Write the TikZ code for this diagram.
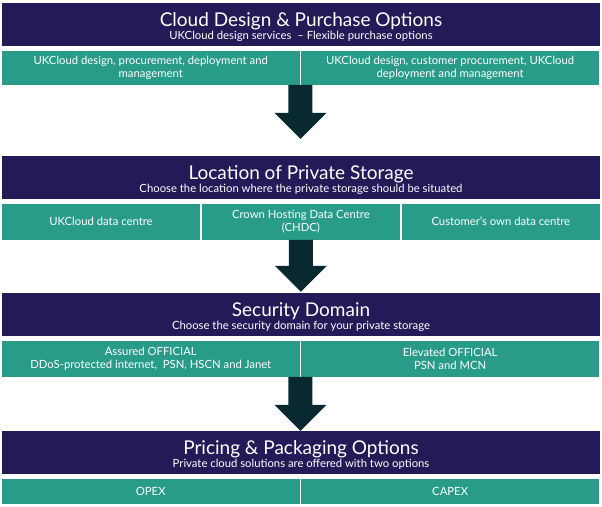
\documentclass[tikz,border=0pt]{standalone}
\usepackage{fontspec}
\setmainfont{Lato}
\usetikzlibrary{calc,positioning}

\definecolor{hdrblue}{RGB}{35,27,88}
\definecolor{cellteal}{RGB}{41,156,137}
\definecolor{arrowdark}{RGB}{8,41,48}

% header bar: name, top y, title, subtitle
\newcommand{\hdr}[4]{%
  \node[header] (#1) at (301,#2) {};
  \node[htitle] (#1t) at ($(#1.north)+(0,-23)$) {#3};
  \node[hsub]   (#1s) at ($(#1.north)+(0,-36.5)$) {#4};}
% block arrow: start point, shaft length
\newcommand{\bigdown}[2]{\fill[arrowdark] (#1) ++(-12,0) -- ++(24,0) -- ++(0,-#2) -- ++(14,0) -- ++(-26,-26) -- ++(-26,26) -- ++(14,0) -- cycle;}

\tikzstyle{header} = [rectangle, fill=hdrblue, minimum width=598, minimum height=43, inner sep=0pt, anchor=north]
\tikzstyle{htitle} = [text=white, anchor=base, inner sep=0pt, font=\fontsize{19}{21}\selectfont]
\tikzstyle{hsub}   = [text=white, anchor=base, inner sep=0pt, font=\fontsize{11.3}{13}\selectfont]
\tikzstyle{cell}   = [rectangle, fill=cellteal, text=white, align=center, inner sep=0pt, anchor=north west, font=\fontsize{11.3}{13}\selectfont]
\tikzstyle{half}   = [cell, minimum width=297.5]
\tikzstyle{third}  = [cell, minimum width=198]

\begin{document}
\begin{tikzpicture}[x=1pt, y=1pt]
    \useasboundingbox (0,0) rectangle (602,-506);

    % design & purchase
    \hdr{h1}{-3}{Cloud Design \& Purchase Options}{UKCloud design services\ \ -- Flexible purchase options}
    \node[half, minimum height=34] (a1) at ($(h1.south west)+(0,-4)$) {UKCloud design, procurement, deployment and\\management};
    \node[half, minimum height=34, right=1.5pt of a1.north east, anchor=north west] (a2) {UKCloud design, customer procurement, UKCloud\\deployment and management};

    % location
    \hdr{h2}{-156}{Location of Private Storage}{Choose the location where the private storage should be situated}
    \node[third, minimum height=36] (b1) at ($(h2.south west)+(0,-4)$) {UKCloud data centre};
    \node[third, minimum height=36, right=1.5pt of b1.north east, anchor=north west] (b2) {Crown Hosting Data Centre\\(CHDC)};
    \node[third, minimum height=36, right=1.5pt of b2.north east, anchor=north west] (b3) {Customer's own data centre};

    % security
    \hdr{h3}{-293}{Security Domain}{Choose the security domain for your private storage}
    \node[half, minimum height=36] (c1) at ($(h3.south west)+(0,-4)$) {Assured OFFICIAL\\DDoS-protected internet, \ PSN, HSCN and Janet};
    \node[half, minimum height=36, right=1.5pt of c1.north east, anchor=north west] (c2) {Elevated OFFICIAL\\PSN and MCN};

    % pricing
    \hdr{h4}{-431}{Pricing \& Packaging Options}{Private cloud solutions are offered with two options}
    \node[half, minimum height=25] (d1) at ($(h4.south west)+(0,-4)$) {OPEX};
    \node[half, minimum height=25, right=1.5pt of d1.north east, anchor=north west] (d2) {CAPEX};

    \coordinate (s1) at ($(a1.south east)!0.5!(a2.south west)$);
    \coordinate (s2) at ($(b2.south west)!0.5!(b2.south east)$);
    \coordinate (s3) at ($(c1.south east)!0.5!(c2.south west)$);

    \bigdown{s1}{28}
    \bigdown{s2}{26}
    \bigdown{s3}{28}

\end{tikzpicture}
\end{document}
